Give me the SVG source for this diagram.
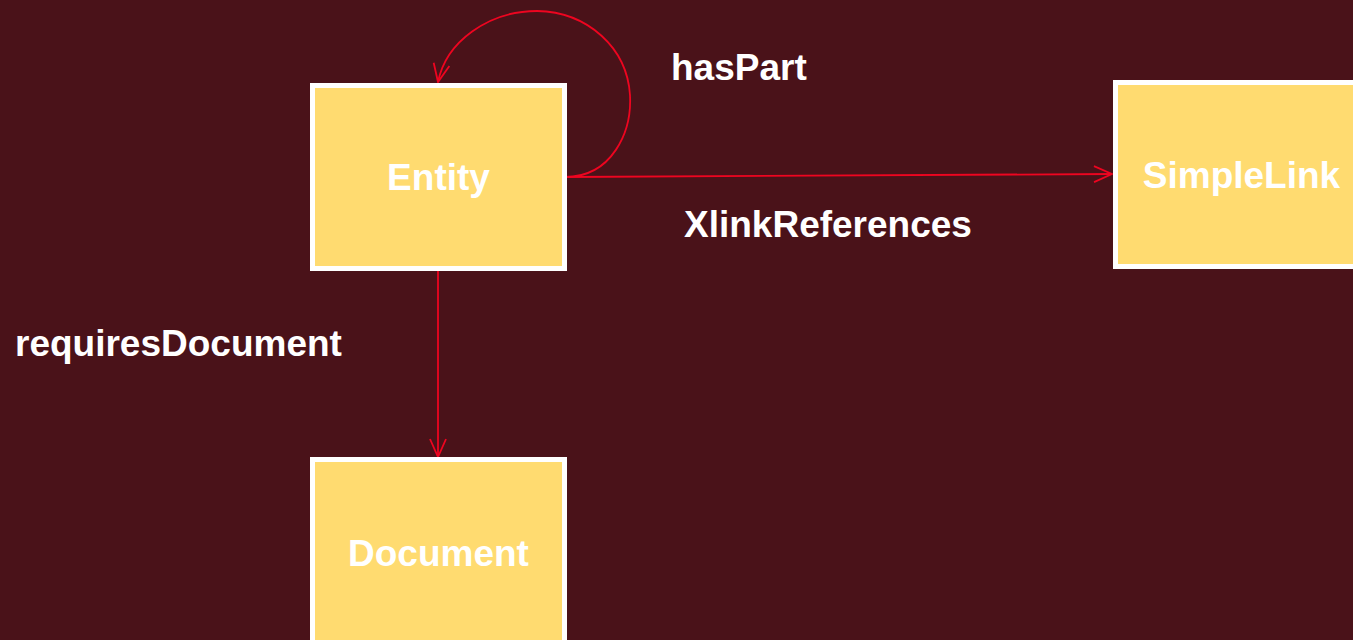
<svg xmlns="http://www.w3.org/2000/svg" width="1353" height="640" viewBox="0 0 1353 640">
<style>
.node rect{fill:#ffdb70;stroke:#ffffff;stroke-width:5}
.node text{font-family:"Liberation Sans",Arial,sans-serif;font-weight:bold;font-size:37px;fill:#ffffff;text-anchor:middle}
.lbl{font-family:"Liberation Sans",Arial,sans-serif;font-weight:bold;font-size:37px;fill:#ffffff}
.edge{fill:none;stroke:#ee0520;stroke-width:1.8}
</style>
<defs>
<marker id="arr" viewBox="0 0 20 20" refX="19" refY="10" markerWidth="20" markerHeight="20" markerUnits="userSpaceOnUse" orient="auto">
<path d="M1,2 L19,10 L1,18" fill="none" stroke="#ee0520" stroke-width="1.8"/>
</marker>
</defs>
<rect width="1353" height="640" fill="#4a1219"/>
<g id="connectors">
<path class="edge" d="M565,177 C612,177 632,132 630,95 C627,48 588,12 537,11 C488,11 446,42 438,82" marker-end="url(#arr)"/>
<path class="edge" d="M565,177 L1112,174" marker-end="url(#arr)"/>
<path class="edge" d="M438,271 L438,457" marker-end="url(#arr)"/>
<text class="lbl" x="671" y="80">hasPart</text>
<text class="lbl" x="684" y="237">XlinkReferences</text>
<text class="lbl" x="15" y="356">requiresDocument</text>
</g>
<g id="entity" class="node">
<rect x="312.5" y="85.5" width="252" height="183"/>
<text x="438.5" y="190">Entity</text>
</g>
<g id="simplelink" class="node">
<rect x="1115.5" y="82.5" width="252" height="184"/>
<text x="1241.5" y="188">SimpleLink</text>
</g>
<g id="document" class="node">
<rect x="312.5" y="459.5" width="252" height="190"/>
<text x="438.5" y="566">Document</text>
</g>
</svg>
